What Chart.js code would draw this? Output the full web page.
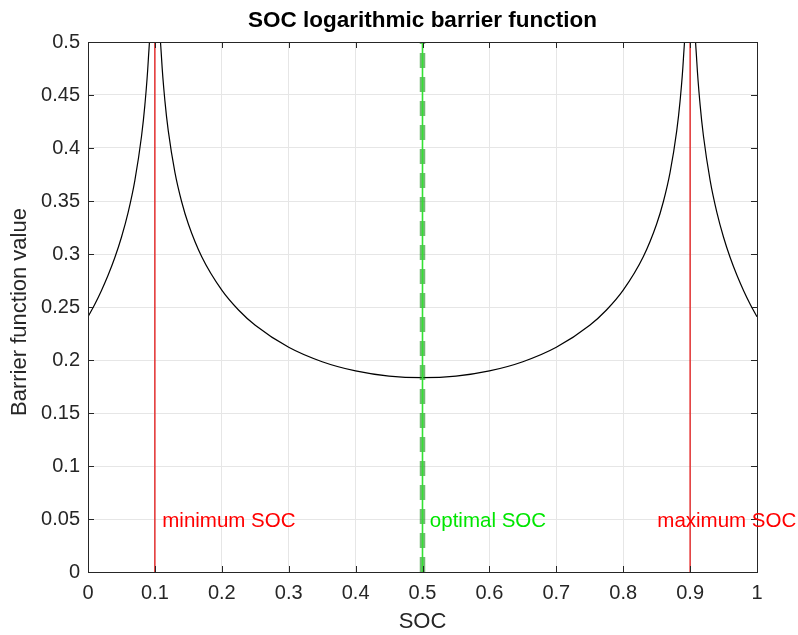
<!DOCTYPE html>
<html>
<head>
<meta charset="utf-8">
<script src="https://cdn.jsdelivr.net/npm/chart.js@4/dist/chart.umd.min.js"></script>
<style>
  html, body { margin: 0; padding: 0; background: #fff; }
  #wrap { width: 798px; height: 635px; }
</style>
</head>
<body>
<div id="wrap"><canvas id="chart" width="798" height="635"></canvas></div>
<script>
// valeurs
const socValues = [0, 0.01, 0.02, 0.03, 0.04, 0.05, 0.06, 0.07, 0.08, 0.085, 0.09, 0.095, 0.099,
  0.101, 0.105, 0.11, 0.115, 0.12, 0.13, 0.14, 0.15, 0.17, 0.2, 0.225, 0.25, 0.3, 0.35, 0.4, 0.45, 0.5,
  0.55, 0.6, 0.65, 0.7, 0.75, 0.775, 0.8, 0.83, 0.85, 0.86, 0.87, 0.88, 0.885, 0.89, 0.895, 0.899,
  0.901, 0.905, 0.91, 0.915, 0.92, 0.93, 0.94, 0.95, 0.96, 0.97, 0.98, 0.99, 1];
const barrierValues = [0.2408, 0.2524, 0.2654, 0.2799, 0.2964, 0.3158, 0.3393, 0.3693, 0.4111, 0.4404, 0.4816, 0.5515, 0.7130,
  0.7132, 0.5528, 0.4841, 0.4442, 0.4161, 0.3768, 0.3493, 0.3283, 0.2974, 0.2659, 0.2472, 0.2328, 0.2120, 0.1984, 0.1897, 0.1848, 0.1833,
  0.1848, 0.1897, 0.1984, 0.2120, 0.2328, 0.2472, 0.2659, 0.2974, 0.3283, 0.3493, 0.3768, 0.4161, 0.4442, 0.4841, 0.5528, 0.7132,
  0.7130, 0.5515, 0.4816, 0.4404, 0.4111, 0.3693, 0.3393, 0.3158, 0.2964, 0.2799, 0.2654, 0.2524, 0.2408];
const minSoc = 0.1;
const maxSoc = 0.9;
const optSoc = 0.5;
const xTicks = [0, 0.1, 0.2, 0.3, 0.4, 0.5, 0.6, 0.7, 0.8, 0.9, 1];
const yTicks = [0, 0.05, 0.1, 0.15, 0.2, 0.25, 0.3, 0.35, 0.4, 0.45, 0.5];
const labels = [
  { text: 'minimum SOC', x: 0.111, y: 0.048, color: 'rgb(255,0,0)' },
  { text: 'optimal SOC', x: 0.511, y: 0.048, color: 'rgb(0,230,0)' },
  { text: 'maximum SOC', x: 0.851, y: 0.048, color: 'rgb(255,0,0)' }
];

const FONT = '"Liberation Sans", Arial, Helvetica, sans-serif';

const curve = socValues.map((x, i) => ({ x: x, y: barrierValues[i] }));
function vline(x) { return [{ x: x, y: 0 }, { x: x, y: 0.5 }]; }

// Dessin du cadre, des graduations et des textes
const matlabLook = {
  id: 'matlabLook',
  afterDraw(chart) {
    const ctx = chart.ctx;
    const a = chart.chartArea;
    const xs = chart.scales.x;
    const ys = chart.scales.y;
    ctx.save();
    // graduations intérieures
    ctx.strokeStyle = '#262626';
    ctx.lineWidth = 1;
    ctx.beginPath();
    xTicks.forEach(v => {
      const px = Math.round(xs.getPixelForValue(v)) + 0.5;
      ctx.moveTo(px, a.bottom); ctx.lineTo(px, a.bottom - 6);
      ctx.moveTo(px, a.top); ctx.lineTo(px, a.top + 6);
    });
    yTicks.forEach(v => {
      const py = Math.round(ys.getPixelForValue(v)) + 0.5;
      ctx.moveTo(a.left, py); ctx.lineTo(a.left + 6, py);
      ctx.moveTo(a.right, py); ctx.lineTo(a.right - 6, py);
    });
    ctx.stroke();
    // cadre
    ctx.strokeRect(Math.round(a.left) + 0.5, Math.round(a.top) + 0.5,
      Math.round(a.right - a.left), Math.round(a.bottom - a.top));
    // textes dans le graphe
    ctx.font = '20.5px ' + FONT;
    ctx.textBaseline = 'middle';
    ctx.textAlign = 'left';
    labels.forEach(l => {
      ctx.fillStyle = l.color;
      ctx.fillText(l.text, xs.getPixelForValue(l.x), ys.getPixelForValue(l.y));
    });
    // titre
    ctx.fillStyle = '#000';
    ctx.textAlign = 'center';
    ctx.font = 'bold 22.5px ' + FONT;
    ctx.fillText('SOC logarithmic barrier function', (a.left + a.right) / 2, 21);
    // titres des axes
    ctx.fillStyle = '#262626';
    ctx.font = '22px ' + FONT;
    ctx.fillText('SOC', (a.left + a.right) / 2, 622);
    ctx.translate(20, 312);
    ctx.rotate(-Math.PI / 2);
    ctx.fillText('Barrier function value', 0, 0);
    ctx.restore();
  }
};

new Chart(document.getElementById('chart').getContext('2d'), {
  type: 'line',
  data: {
    datasets: [
      { data: curve, borderColor: '#000', borderWidth: 1.2, pointRadius: 0, cubicInterpolationMode: 'monotone', order: 5 },
      { data: vline(minSoc), borderColor: 'rgb(225,0,0)', borderWidth: 1.2, pointRadius: 0, order: 4 },
      { data: vline(maxSoc), borderColor: 'rgb(225,0,0)', borderWidth: 1.2, pointRadius: 0, order: 3 },
      { data: vline(optSoc), borderColor: 'rgba(0,128,0,0.55)', borderWidth: 5.5, borderDash: [15, 9], pointRadius: 0, order: 2 },
      { data: vline(optSoc), borderColor: 'rgb(50,225,50)', borderWidth: 1.6, pointRadius: 0, order: 1 }
    ]
  },
  options: {
    responsive: false,
    animation: false,
    layout: { padding: { left: 0, right: 41, top: 42, bottom: 0 } },
    plugins: { legend: { display: false }, tooltip: { enabled: false }, title: { display: false } },
    scales: {
      x: {
        type: 'linear', min: 0, max: 1,
        afterBuildTicks: s => { s.ticks = xTicks.map(v => ({ value: v })); },
        afterFit: s => { s.height = 63; },
        grid: { color: '#e6e6e6', drawTicks: false },
        border: { display: false },
        ticks: {
          color: '#262626', padding: 9, maxRotation: 0,
          font: { family: FONT, size: 20 },
          callback: v => String(v)
        }
      },
      y: {
        type: 'linear', min: 0, max: 0.5,
        afterBuildTicks: s => { s.ticks = yTicks.map(v => ({ value: v })); },
        afterFit: s => { s.width = 88; },
        grid: { color: '#e6e6e6', drawTicks: false },
        border: { display: false },
        ticks: {
          color: '#262626', padding: 8,
          font: { family: FONT, size: 20 },
          callback: v => String(parseFloat(v.toFixed(2)))
        }
      }
    }
  },
  plugins: [matlabLook]
});
</script>
</body>
</html>
